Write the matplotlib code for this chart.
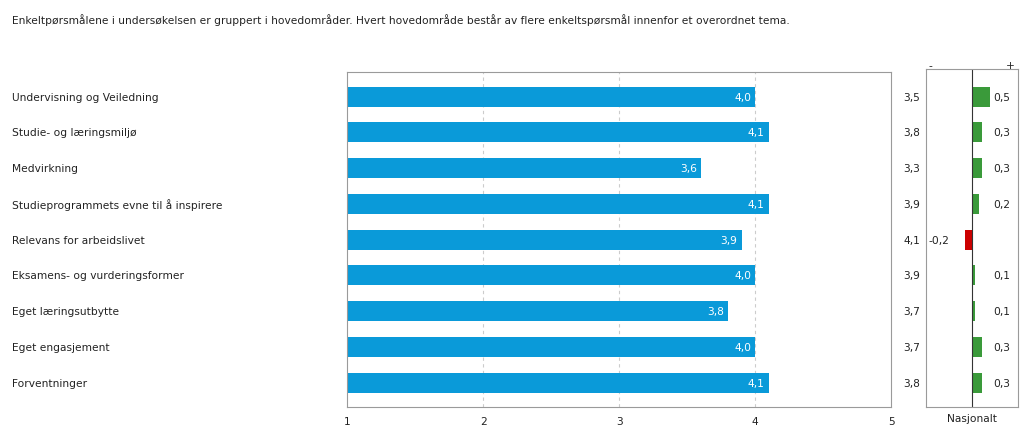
import matplotlib
matplotlib.use("Agg")
import matplotlib.pyplot as plt

# data
categories = [
    "Undervisning og Veiledning",
    "Studie- og læringsmiljø",
    "Medvirkning",
    "Studieprogrammets evne til å inspirere",
    "Relevans for arbeidslivet",
    "Eksamens- og vurderingsformer",
    "Eget læringsutbytte",
    "Eget engasjement",
    "Forventninger",
]
scores = [4.0, 4.1, 3.6, 4.1, 3.9, 4.0, 3.8, 4.0, 4.1]
national = [3.5, 3.8, 3.3, 3.9, 4.1, 3.9, 3.7, 3.7, 3.8]
diffs = [0.5, 0.3, 0.3, 0.2, -0.2, 0.1, 0.1, 0.3, 0.3]
x_ticks = [1, 2, 3, 4, 5]

title = ("Enkeltpørsmålene i undersøkelsen er gruppert i hovedområder. "
         "Hvert hovedområde består av flere enkeltspørsmål innenfor et overordnet tema.")

BLUE = "#0a9ad9"
GREEN = "#3a9a3a"
RED = "#cc0000"
EDGE = "#9a9a9a"
TXT = "#222222"
FS = 7.7

W, H = 1023, 431
fig = plt.figure(figsize=(W / 100, H / 100), dpi=100)

ROW0 = 97.7    # pixel y of first row centre
STEP = 35.75   # pixels per row


def px_axes(x0, y0, x1, y1):
    # pixel box (top-left origin) -> figure axes, plus matching row limits
    a = fig.add_axes([x0 / W, 1 - y1 / H, (x1 - x0) / W, (y1 - y0) / H])
    a.set_ylim((y1 - ROW0) / STEP, (y0 - ROW0) / STEP)
    return a


def fmt(v):
    return f"{v:.1f}".replace(".", ",")


n = len(categories)
rows = list(range(n))

# main bar chart
ax = px_axes(347, 73.3, 891.3, 408.3)
ax.barh(rows, [s - 1 for s in scores], left=1, height=0.56, color=BLUE)
ax.set_xlim(1, 5)
for x in x_ticks[1:-1]:
    ax.axvline(x, color="#cccccc", lw=0.8, ls=(0, (3, 3)), zorder=0)
for i, s in enumerate(scores):
    ax.text(s - 0.03, i, fmt(s), color="white", ha="right", va="center", fontsize=FS)
ax.set_xticks(x_ticks)
ax.set_xticklabels([str(t) for t in x_ticks], fontsize=FS, color=TXT)
ax.tick_params(axis="x", length=0, pad=6)
ax.set_yticks([])
for sp in ax.spines.values():
    sp.set_color(EDGE)
    sp.set_linewidth(0.8)

# category labels on the left, national values between the panels
for i, c in enumerate(categories):
    ax.annotate(c, xy=(12, i), xycoords=("figure pixels", "data"),
                ha="left", va="center", fontsize=FS, color=TXT, annotation_clip=False)
for i, v in enumerate(national):
    ax.annotate(fmt(v), xy=(920, i), xycoords=("figure pixels", "data"),
                ha="right", va="center", fontsize=FS, color=TXT, annotation_clip=False)

# difference panel
ax2 = px_axes(925.7, 70, 1017.7, 408.3)
colors = [GREEN if d >= 0 else RED for d in diffs]
ax2.barh(rows, diffs, height=0.56, color=colors)
ax2.set_xlim(-1.28, 1.28)
ax2.axvline(0, color="#333333", lw=0.8)
for i, d in enumerate(diffs):
    xpos = 0.6 if d >= 0 else -1.2
    ax2.text(xpos, i, fmt(d), ha="left", va="center", fontsize=FS, color=TXT)
ax2.set_xticks([])
ax2.set_yticks([])
for sp in ax2.spines.values():
    sp.set_color(EDGE)
    sp.set_linewidth(0.8)
ax2.text(0.03, 1.012, "-", transform=ax2.transAxes, ha="left", va="center", fontsize=FS, color=TXT)
ax2.text(0.97, 1.012, "+", transform=ax2.transAxes, ha="right", va="center", fontsize=FS, color=TXT)
ax2.set_xlabel("Nasjonalt", fontsize=FS, color=TXT, labelpad=4)

fig.text(12 / W, 1 - 20 / H, title, ha="left", va="center", fontsize=FS, color=TXT)

fig.savefig("out.png", dpi=100)
